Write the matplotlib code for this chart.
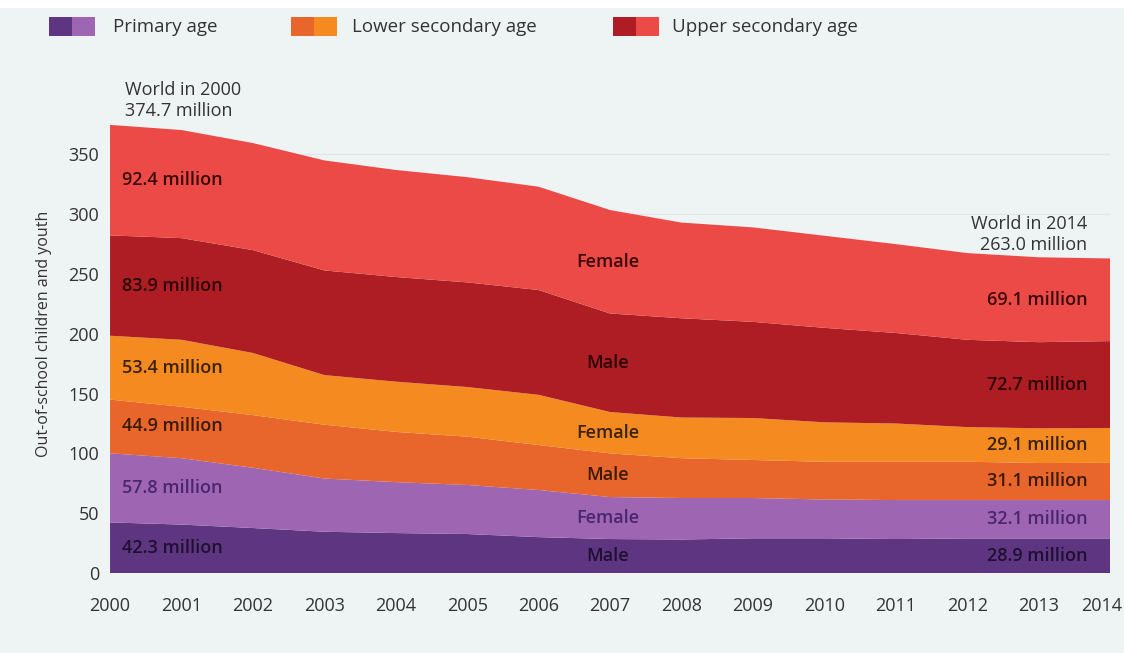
import matplotlib
matplotlib.use("Agg")
import matplotlib.pyplot as plt
from matplotlib.patches import Rectangle
from matplotlib.transforms import ScaledTranslation

plt.rcParams["font.family"] = ["Open Sans", "DejaVu Sans"]

years = list(range(2000, 2015))

# out-of-school children and youth, millions, stacked bottom to top
primary_male = [42.3, 40.5, 37.6, 34.5, 33.4, 32.6, 30.0, 28.4, 28.0, 29.0, 29.0, 28.4, 28.9, 28.9, 28.9]
primary_female = [57.8, 55.5, 50.4, 44.5, 42.6, 41.0, 39.4, 35.1, 34.7, 33.7, 32.5, 32.6, 32.1, 32.1, 32.1]
lower_male = [44.9, 43.0, 44.0, 45.0, 42.0, 40.4, 37.6, 36.5, 33.3, 31.8, 31.5, 32.0, 32.0, 31.0, 31.1]
lower_female = [53.4, 56.0, 52.0, 41.5, 42.0, 41.5, 42.0, 34.6, 34.0, 35.1, 33.0, 32.0, 29.0, 29.0, 29.1]
upper_male = [83.9, 85.0, 86.0, 87.5, 87.5, 87.5, 87.6, 82.4, 83.0, 80.4, 79.0, 75.7, 73.0, 72.0, 72.7]
upper_female = [92.4, 90.4, 89.5, 92.0, 89.5, 88.0, 86.4, 86.5, 80.0, 79.0, 77.0, 74.3, 72.5, 71.0, 69.1]

layers = [primary_male, primary_female, lower_male, lower_female, upper_male, upper_female]
sexes = ["Male", "Female", "Male", "Female", "Male", "Female"]
colors = ["#5d3580", "#9e66b2", "#e8652b", "#f58a21", "#ad1d23", "#ec4a47"]
text_colors = ["#1e1030", "#4a2570", "#3a1a08", "#3a2208", "#2a0606", "#3a0a0a"]

legend_labels = ["Primary age", "Lower secondary age", "Upper secondary age"]

BG = "#eef3f4"
TXT = "#333333"


def layer_mid(i, idx):
    base = sum(layers[k][idx] for k in range(i))
    return base + layers[i][idx] / 2


def main():
    fig = plt.figure(figsize=(11.24, 6.53), dpi=100, facecolor=BG)
    ax = fig.add_axes([0.0979, 0.1225, 0.8897, 0.7326])
    ax.set_facecolor(BG)

    ax.stackplot(years, layers, colors=colors, linewidth=0, zorder=2)

    ax.set_xlim(2000, 2014)
    ax.set_ylim(0, 400)
    ax.set_xticks(years)
    ax.set_yticks(range(0, 351, 50))
    ax.tick_params(length=0, labelsize=13, labelcolor=TXT)
    ax.tick_params(axis="x", pad=17)
    ax.tick_params(axis="y", pad=8)
    for side in ax.spines:
        ax.spines[side].set_visible(False)
    for v in range(50, 351, 50):
        ax.axhline(v, color="#dfe5e8", linewidth=0.9, zorder=1)

    # last year label sits a little inside the right edge
    last = ax.get_xticklabels()[-1]
    last.set_transform(last.get_transform() + ScaledTranslation(-8 / 100, 0, fig.dpi_scale_trans))

    ax.set_ylabel("Out-of-school children and youth", fontsize=11.5, color=TXT, labelpad=12)

    # values at both ends of each band
    for i, layer in enumerate(layers):
        ax.text(2000.17, layer_mid(i, 0), f"{layer[0]:.1f} million", fontsize=13,
                fontweight="semibold", color=text_colors[i], va="center", ha="left", zorder=3)
        ax.text(2013.68, layer_mid(i, -1), f"{layer[-1]:.1f} million", fontsize=13,
                fontweight="semibold", color=text_colors[i], va="center", ha="right", zorder=3)
        ax.text(2006.97, layer_mid(i, 7), sexes[i], fontsize=13,
                fontweight="semibold", color=text_colors[i], va="center", ha="center", zorder=3)

    start_total = sum(layer[0] for layer in layers)
    end_total = sum(layer[-1] for layer in layers)
    ax.text(2000.21, start_total + 4, f"World in 2000\n{start_total:.1f} million",
            fontsize=13, color=TXT, ha="left", va="bottom", linespacing=1.25, clip_on=False)
    ax.text(2013.68, end_total + 4, f"World in 2014\n{end_total:.1f} million",
            fontsize=13, color=TXT, ha="right", va="bottom", linespacing=1.2, clip_on=False)

    # two-tone legend along the top
    fig.add_artist(Rectangle((0, 645 / 653), 1, 8 / 653, transform=fig.transFigure,
                             facecolor="white", edgecolor="none"))
    swatch_x = [49, 291, 613]
    text_x = [113, 352, 672]
    W, H = 1124, 653
    for k, label in enumerate(legend_labels):
        x0 = swatch_x[k]
        fig.add_artist(Rectangle((x0 / W, 1 - 36 / H), 23 / W, 19 / H, transform=fig.transFigure,
                                 facecolor=colors[2 * k], edgecolor="none"))
        fig.add_artist(Rectangle(((x0 + 23) / W, 1 - 36 / H), 23 / W, 19 / H, transform=fig.transFigure,
                                 facecolor=colors[2 * k + 1], edgecolor="none"))
        fig.text(text_x[k] / W, 1 - 27 / H, label, fontsize=13.5, color=TXT, va="center", ha="left")

    fig.savefig("out.png", dpi=100, facecolor=BG)
    plt.close(fig)


if __name__ == "__main__":
    main()
